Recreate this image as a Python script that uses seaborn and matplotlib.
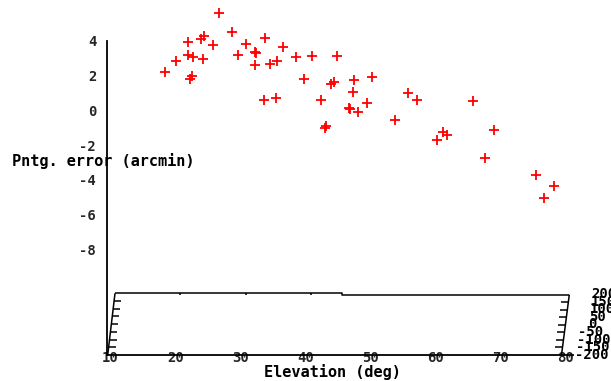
import numpy as np
import pandas as pd
import matplotlib
matplotlib.use("Agg")
import matplotlib.pyplot as plt
import seaborn as sns

# ---- data ----
elevation = [18.4, 20.1, 21.9, 22.0, 22.2, 22.5, 22.7, 23.9, 24.4, 24.3,
             25.7, 26.7, 28.7, 29.6, 30.8, 32.2, 32.4, 32.2, 33.7, 33.6,
             34.5, 35.6, 35.5, 36.5, 38.5, 39.8, 41.0, 42.4, 43.2, 43.0,
             44.0, 44.4, 44.9, 46.7, 46.9, 47.3, 47.5, 48.1, 49.5, 50.3,
             53.8, 55.8, 57.1, 60.3, 61.1, 61.8, 65.8, 67.6, 69.0, 75.5,
             76.7, 78.3]
error = [2.20, 2.82, 3.94, 3.16, 1.80, 1.95, 3.05, 4.10, 4.27, 2.95,
         3.74, 5.61, 4.48, 3.20, 3.81, 3.33, 3.28, 2.59, 4.17, 0.61,
         2.64, 2.82, 0.72, 3.64, 3.05, 1.82, 3.12, 0.61, -0.90, -1.03,
         1.53, 1.61, 3.12, 0.11, 0.07, 1.07, 1.74, -0.10, 0.44, 1.91,
         -0.54, 0.98, 0.61, -1.69, -1.26, -1.42, 0.53, -2.76, -1.15, -3.72,
         -5.02, -4.35]
xticks = [10, 20, 30, 40, 50, 60, 70, 80]
yticks = [4, 2, 0, -2, -4, -6, -8]
zticks = [200, 150, 100, 50, 0, -50, -100, -150, -200]
xlabel = "Elevation (deg)"
ylabel = "Pntg. error (arcmin)"

df = pd.DataFrame({"elev": elevation, "err": error})

sns.set_style("white")
plt.rcParams["font.family"] = ["DejaVu Sans Mono", "DejaVu Sans"]
plt.rcParams["font.weight"] = "bold"

W, H = 611, 381
fig = plt.figure(figsize=(W / 100, H / 100), dpi=100)

# pixel calibration (image coords, origin top-left)
X0PX, XSCALE = 110.5, 6.5      # px of elevation 10, px per degree
Y0PX, YSCALE = 110.3, 17.4     # px of error 0, px per arcmin


def dx(px):
    return 10 + (px - X0PX) / XSCALE


def dy(py):
    return (Y0PX - py) / YSCALE


left_px, right_px, bottom_px = 107.3, 573.0, 355.0
ax = fig.add_axes([left_px / W, (H - bottom_px) / H,
                   (right_px - left_px) / W, bottom_px / H])
ax.set_xlim(dx(left_px), dx(right_px))
ax.set_ylim(dy(bottom_px), dy(0))

sns.scatterplot(data=df, x="elev", y="err", marker="+", color="#ff0000",
                s=55, linewidth=1.3, ax=ax, legend=False, clip_on=False)

for s in ["top", "right"]:
    ax.spines[s].set_visible(False)
for s in ["left", "bottom"]:
    ax.spines[s].set_color("black")
    ax.spines[s].set_linewidth(1.3)
ax.spines["left"].set_bounds(dy(bottom_px), 4)

ax.set_yticks(yticks)
ax.set_yticklabels([str(v) for v in yticks])
ax.tick_params(axis="y", direction="in", length=4.5, width=1.1,
               color="black", pad=8, labelsize=10)
ax.set_xticks(xticks)
ax.set_xticklabels([str(v) for v in xticks])
ax.tick_params(axis="x", length=0, pad=-3.0, labelsize=10)
for t in ax.get_xticklabels() + ax.get_yticklabels():
    t.set_fontweight("bold")
ax.set_xlabel("")
ax.set_ylabel("")

txt = dict(fontsize=10, fontweight="bold", color="black")
lab = dict(fontsize=11, fontweight="bold", color="black")
ax.text(dx(332), dy(376.5), xlabel, ha="center", va="baseline",
        clip_on=False, **lab)
ax.text(dx(12), dy(166.5), ylabel, ha="left", va="baseline",
        clip_on=False, **lab)

# ---- base box (3-D frame seen edge-on) ----
lw = 1.1
kw = dict(color="black", lw=lw, clip_on=False, solid_capstyle="butt")
top_l, top_r = 293.3, 294.7
ax.plot([dx(115), dx(341.7), dx(341.7), dx(569.3)],
        [dy(top_l), dy(top_l), dy(top_r), dy(top_r)], **kw)
# slanted side edges
lx_top, lx_bot, ly_top, ly_bot = 115.0, 107.7, 293.3, 355.0
rx_top, rx_bot, ry_top, ry_bot = 569.3, 561.5, 294.7, 355.0
ax.plot([dx(lx_top), dx(lx_bot)], [dy(ly_top), dy(ly_bot)], **kw)
ax.plot([dx(rx_top), dx(rx_bot)], [dy(ry_top), dy(ry_bot)], **kw)


def zpix(z, ytop, ybot):
    return ybot - (z + 200) / 400 * (ybot - ytop)


for z in zticks[1:-1]:
    py = zpix(z, ly_top, ly_bot)
    x = lx_top + (py - ly_top) / (ly_bot - ly_top) * (lx_bot - lx_top)
    ax.plot([dx(x), dx(x + 7)], [dy(py), dy(py)], **kw)
    py = zpix(z, ry_top, ry_bot)
    x = rx_top + (py - ry_top) / (ry_bot - ry_top) * (rx_bot - rx_top)
    ax.plot([dx(x - 7), dx(x)], [dy(py), dy(py)], **kw)

# small ticks on the back edge
for bx in [180.3, 246.0, 311.0]:
    ax.plot([dx(bx), dx(bx)], [dy(top_l), dy(top_l + 2)], **kw)

# z tick labels on the right
for z in zticks:
    py = zpix(z, 294.0, 355.0)
    xd = 591.7 - (200 - z) / 400 * 8.0
    if z < 0:
        xd -= 8.5
    ax.text(dx(xd), dy(py), str(z), ha="left", va="center",
            clip_on=False, **txt)

fig.savefig("out.png", dpi=100)
